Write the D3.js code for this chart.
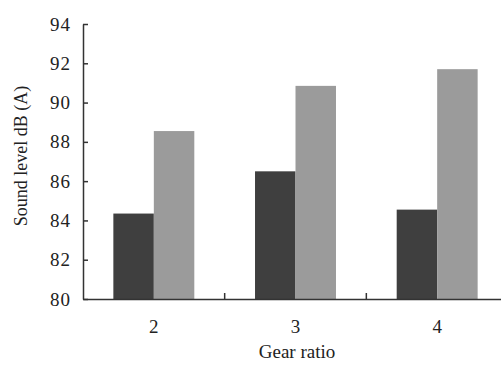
<!DOCTYPE html>
<html>
<head>
<meta charset="utf-8">
<title>Sound level vs gear ratio</title>
<style>
	body { margin: 0; background: #fff; }
	text { font-family: "Liberation Serif", "DejaVu Serif", serif; fill: #222; }
</style>
</head>
<body>
<svg width="501" height="367"></svg>
<script src="https://cdn.jsdelivr.net/npm/d3@7"></script>
<script>
	// data
	let gears = ["2", "3", "4"]
	let darkVals = [84.35, 86.5, 84.55]
	let lightVals = [88.55, 90.85, 91.7]
	let yTicks = [80, 82, 84, 86, 88, 90, 92, 94]

	let svg = d3.select("svg")
	let mLeft = 83, mRight = 508, mTop = 24, mBottom = 299

	let x0 = d3.scaleBand().domain(gears).range([mLeft, mRight])
	let x1 = d3.scaleBand().domain([0, 1]).range([0, x0.bandwidth()]).paddingOuter(0.75)
	let y = d3.scaleLinear().domain([80, 94]).range([mBottom, mTop])

	// bars
	let rows = gears.map((g, i) => ({ g: g, v: [darkVals[i], lightVals[i]] }))
	let colors = ["#3f3f3f", "#9b9b9b"]
	svg.append("g").selectAll("g").data(rows).enter().append("g")
		.attr("transform", d => "translate(" + x0(d.g) + ",0)")
		.selectAll("rect").data(d => d.v).enter().append("rect")
			.attr("x", (d, i) => x1(i))
			.attr("width", x1.bandwidth())
			.attr("y", d => y(d))
			.attr("height", d => y(80) - y(d))
			.attr("fill", (d, i) => colors[i])

	// y axis, ticks inside
	let ya = svg.append("g").attr("transform", "translate(" + mLeft + ",0)")
		.call(d3.axisLeft(y).tickValues(yTicks).tickSizeInner(-5).tickSizeOuter(0).tickPadding(12))
	ya.selectAll("text").style("font-size", "19px").style("letter-spacing", "1px")
	ya.select(".domain").attr("stroke", "#333").attr("stroke-width", 1.5)
	ya.selectAll("line").attr("stroke", "#333").attr("stroke-width", 1.5)

	// x axis
	let xa = svg.append("g").attr("transform", "translate(0," + mBottom + ")")
		.call(d3.axisBottom(x0).tickSize(0).tickPadding(21))
	xa.selectAll("text").style("font-size", "19px")
	xa.select(".domain").attr("stroke", "#333").attr("stroke-width", 1.5)
	// boundary ticks between groups
	xa.selectAll(".sep").data(gears.slice(1)).enter().append("line")
		.attr("x1", d => x0(d)).attr("x2", d => x0(d))
		.attr("y1", 0).attr("y2", -6)
		.attr("stroke", "#333").attr("stroke-width", 1.5)

	// axis titles
	svg.append("text")
		.attr("x", 297).attr("y", 358)
		.attr("text-anchor", "middle")
		.style("font-size", "19px")
		.text("Gear ratio")
	svg.append("text")
		.attr("transform", "translate(27," + 156 + ") rotate(-90)")
		.attr("text-anchor", "middle")
		.style("font-size", "18px")
		.text("Sound level dB (A)")
</script>
</body>
</html>
